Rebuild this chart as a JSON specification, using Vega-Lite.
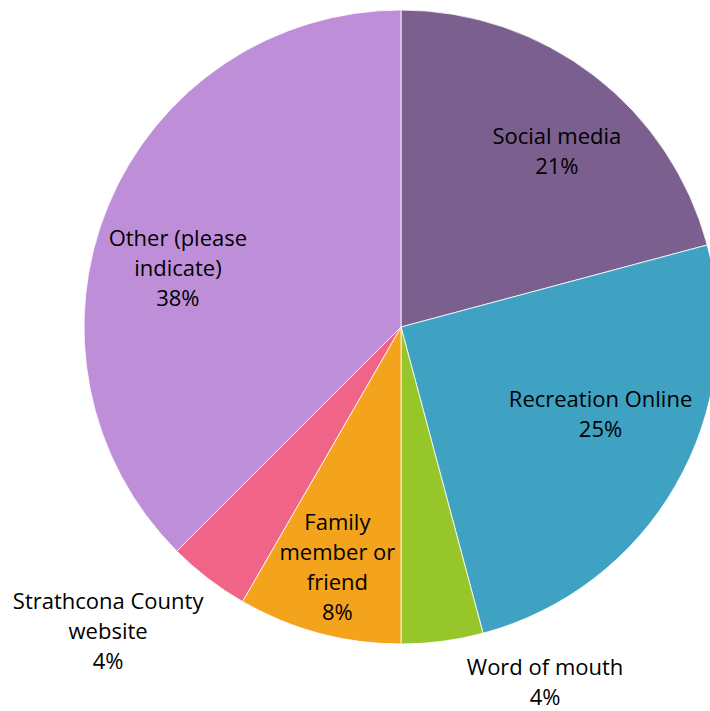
{
  "$schema": "https://vega.github.io/schema/vega-lite/v6.json",
  "width": 618,
  "height": 654,
  "autosize": {"type": "none"},
  "padding": {"left": 92, "top": 0, "right": 0, "bottom": 57},
  "background": "white",
  "view": {"stroke": null},
  "data": {
    "values": [
      {"category": "Social media", "count": 5, "label": "Social media\n21%", "idx": 1},
      {"category": "Recreation Online", "count": 6, "label": "Recreation Online\n25%", "idx": 2},
      {"category": "Word of mouth", "count": 1, "label": "Word of mouth\n4%", "idx": 3},
      {"category": "Family member or friend", "count": 2, "label": "Family\nmember or\nfriend\n8%", "idx": 4},
      {"category": "Strathcona County website", "count": 1, "label": "Strathcona County\nwebsite\n4%", "idx": 5},
      {"category": "Other (please indicate)", "count": 9, "label": "Other (please\nindicate)\n38%", "idx": 6}
    ]
  },
  "encoding": {
    "theta": {"field": "count", "type": "quantitative", "stack": true},
    "order": {"field": "idx", "type": "quantitative"}
  },
  "layer": [
    {
      "mark": {"type": "arc", "outerRadius": 317, "stroke": "white", "strokeWidth": 0.8},
      "encoding": {
        "color": {
          "field": "category",
          "type": "nominal",
          "scale": {
            "domain": ["Social media", "Recreation Online", "Word of mouth", "Family member or friend", "Strathcona County website", "Other (please indicate)"],
            "range": ["#7B5F8E", "#3FA2C2", "#96C62A", "#F4A31C", "#F06487", "#BE8FD8"]
          },
          "legend": null
        }
      }
    },
    {
      "mark": {"type": "text", "radius": 238, "dx": 11, "dy": -1, "font": "Open Sans", "fontSize": 22, "lineHeight": 30, "lineBreak": "\n", "align": "center", "baseline": "middle", "color": "black"},
      "encoding": {
        "text": {"condition": {"test": "datum.category === 'Social media'", "field": "label"}, "value": ""}
      }
    },
    {
      "mark": {"type": "text", "radius": 238, "dx": -2, "dy": -34, "font": "Open Sans", "fontSize": 22, "lineHeight": 30, "lineBreak": "\n", "align": "center", "baseline": "middle", "color": "black"},
      "encoding": {
        "text": {"condition": {"test": "datum.category === 'Family member or friend'", "field": "label"}, "value": ""}
      }
    },
    {
      "mark": {"type": "text", "radius": 235, "dx": -4, "dy": -45, "font": "Open Sans", "fontSize": 22, "lineHeight": 30, "lineBreak": "\n", "align": "center", "baseline": "middle", "color": "black"},
      "encoding": {
        "text": {"condition": {"test": "datum.category === 'Recreation Online'", "field": "label"}, "value": ""}
      }
    },
    {
      "mark": {"type": "text", "radius": 235, "dx": -6, "dy": 2, "font": "Open Sans", "fontSize": 22, "lineHeight": 30, "lineBreak": "\n", "align": "center", "baseline": "middle", "color": "black"},
      "encoding": {
        "text": {"condition": {"test": "datum.category === 'Other (please indicate)'", "field": "label"}, "value": ""}
      }
    },
    {
      "mark": {"type": "text", "radius": 330, "dx": 101, "dy": 14, "font": "Open Sans", "fontSize": 22, "lineHeight": 30, "lineBreak": "\n", "align": "center", "baseline": "middle", "color": "black"},
      "encoding": {
        "text": {"condition": {"test": "datum.category === 'Word of mouth'", "field": "label"}, "value": ""}
      }
    },
    {
      "mark": {"type": "text", "radius": 330, "dx": -92, "dy": 13, "font": "Open Sans", "fontSize": 22, "lineHeight": 30, "lineBreak": "\n", "align": "center", "baseline": "middle", "color": "black"},
      "encoding": {
        "text": {"condition": {"test": "datum.category === 'Strathcona County website'", "field": "label"}, "value": ""}
      }
    }
  ]
}
